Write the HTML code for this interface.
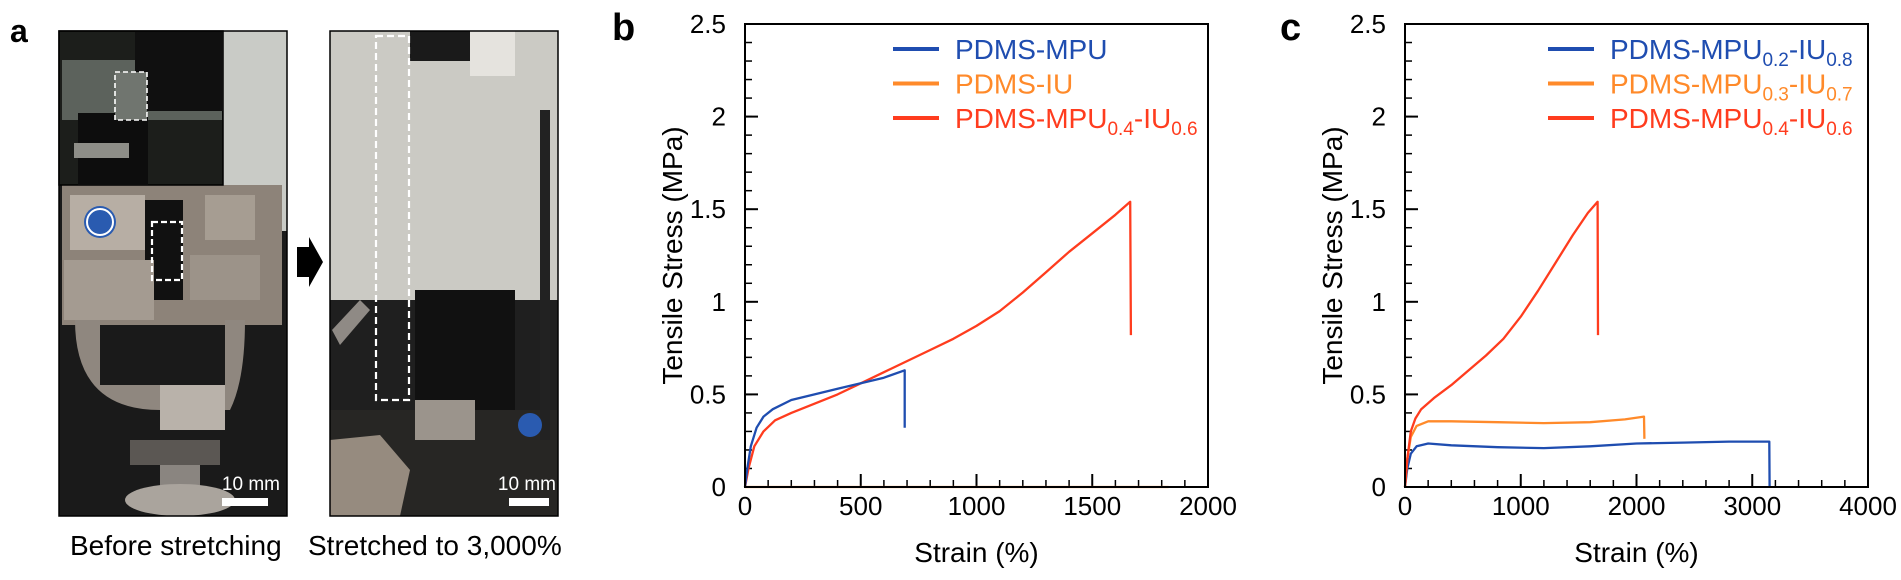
<!DOCTYPE html>
<html><head><meta charset="utf-8">
<style>
html,body{margin:0;padding:0;background:#fff;}
svg{display:block;font-family:"Liberation Sans",Arial,sans-serif;}
</style></head>
<body>
<svg id="fig" width="1901" height="580" viewBox="0 0 1901 580" xmlns="http://www.w3.org/2000/svg">
  <text x="10" y="42" font-size="32" font-weight="bold">a</text>
  <g>
    <rect x="59" y="31" width="228" height="485" fill="#1a1a1a"/>
    <rect x="200" y="31" width="87" height="200" fill="#c9cbc6"/>
    <rect x="62" y="185" width="220" height="140" fill="#8d8379"/>
    <rect x="70" y="195" width="75" height="55" fill="#b7aea4"/>
    <rect x="205" y="195" width="50" height="45" fill="#a69d92"/>
    <circle cx="100" cy="222" r="16" fill="#2a5bb0"/>
    <circle cx="100" cy="222" r="13" fill="none" stroke="#fff" stroke-width="2"/>
    <circle cx="232" cy="271" r="12" fill="#2a5bb0"/>
    <rect x="145" y="200" width="38" height="100" fill="#111"/>
    <rect x="64" y="260" width="90" height="60" fill="#a49b91"/>
    <rect x="190" y="255" width="70" height="45" fill="#9c9389"/>
    <path d="M75 320 Q75 410 160 410 L230 410 Q245 380 245 320 L225 320 L225 385 L100 385 L100 320 Z" fill="#8f877f"/>
    <rect x="160" y="385" width="65" height="45" fill="#b9b2aa"/>
    <rect x="130" y="440" width="90" height="25" fill="#5b5753"/>
    <rect x="160" y="465" width="40" height="30" fill="#8a8580"/>
    <ellipse cx="180" cy="500" rx="55" ry="16" fill="#aaa49d"/>
    <rect x="59" y="31" width="164" height="154" fill="#1c1e1b" stroke="#000" stroke-width="1.5"/>
    <rect x="62" y="60" width="160" height="60" fill="#5c625c"/>
    <rect x="135" y="31" width="88" height="80" fill="#101010"/>
    <rect x="78" y="113" width="70" height="72" fill="#0d0d0d"/>
    <rect x="74" y="143" width="55" height="15" fill="#8e8e88"/>
    <rect x="115" y="72" width="32" height="48" fill="#70756f" stroke="#fff" stroke-width="1.6" stroke-dasharray="5,3"/>
    <rect x="152" y="222" width="30" height="58" fill="none" stroke="#fff" stroke-width="2.2" stroke-dasharray="6,3"/>
    <rect x="59" y="31" width="228" height="485" fill="none" stroke="#000" stroke-width="1.5"/>
    <text x="280" y="490" font-size="19" fill="#fff" text-anchor="end">10 mm</text>
    <rect x="222" y="498" width="46" height="8" fill="#fff"/>
  </g>
  <text x="70" y="555" font-size="28">Before stretching</text>
  <path d="M297 247 L309 247 L309 237 L323 262 L309 287 L309 277 L297 277 Z" fill="#000"/>
  <g>
    <rect x="330" y="31" width="228" height="485" fill="#cbcac4"/>
    <rect x="330" y="300" width="228" height="216" fill="#1f1f1f"/>
    <rect x="415" y="290" width="100" height="120" fill="#111"/>
    <rect x="330" y="410" width="228" height="106" fill="#272624"/>
    <rect x="410" y="31" width="80" height="30" fill="#1a1a1a"/>
    <rect x="470" y="31" width="45" height="45" fill="#e5e3de"/>
    <rect x="540" y="110" width="10" height="330" fill="#222"/>
    <path d="M332 330 L360 300 L370 310 L340 345 Z" fill="#8f8a85"/>
    <rect x="415" y="400" width="60" height="40" fill="#9b948c"/>
    <path d="M330 440 L380 435 L410 470 L400 516 L330 516 Z" fill="#968b7f"/>
    <circle cx="530" cy="425" r="12" fill="#2a5bb0"/>
    <rect x="376" y="36" width="33" height="364" fill="none" stroke="#fff" stroke-width="2.2" stroke-dasharray="7,4"/>
    <rect x="330" y="31" width="228" height="485" fill="none" stroke="#000" stroke-width="1.5"/>
    <text x="556" y="490" font-size="19" fill="#fff" text-anchor="end">10 mm</text>
    <rect x="509" y="498" width="40" height="8" fill="#fff"/>
  </g>
  <text x="308" y="555" font-size="28">Stretched to 3,000%</text>

  <text x="612" y="40" font-size="38" font-weight="bold">b</text>
  <text x="1280" y="40" font-size="38" font-weight="bold">c</text>
  <g id="chartB"></g>
  <g id="chartC"></g>
</svg>
<script>
// Panel b data
const bXTicks = [0, 500, 1000, 1500, 2000];
const bYTicks = [0, 0.5, 1, 1.5, 2, 2.5];
const bYTickLabels = ["0", "0.5", "1", "1.5", "2", "2.5"];
const bMpuStrain = [0, 10, 25, 50, 80, 120, 200, 300, 400, 500, 600, 690, 690];
const bMpuStress = [0, 0.1, 0.22, 0.32, 0.38, 0.42, 0.47, 0.5, 0.53, 0.56, 0.59, 0.63, 0.32];
const bIuStrain = [0, 500, 1000, 1500, 1830];
const bIuStress = [0, 0, 0, 0, 0];
const bMixStrain = [0, 15, 40, 80, 130, 200, 300, 400, 500, 600, 700, 800, 900, 1000, 1100, 1200, 1300, 1400, 1500, 1600, 1664, 1667];
const bMixStress = [0, 0.1, 0.22, 0.3, 0.36, 0.4, 0.45, 0.5, 0.56, 0.62, 0.68, 0.74, 0.8, 0.87, 0.95, 1.05, 1.16, 1.27, 1.37, 1.47, 1.54, 0.82];
// Panel c data
const cXTicks = [0, 1000, 2000, 3000, 4000];
const cYTicks = [0, 0.5, 1, 1.5, 2, 2.5];
const cYTickLabels = ["0", "0.5", "1", "1.5", "2", "2.5"];
const c28Strain = [0, 20, 50, 100, 200, 400, 800, 1200, 1600, 2000, 2400, 2800, 3147, 3150];
const c28Stress = [0, 0.1, 0.18, 0.22, 0.235, 0.225, 0.215, 0.21, 0.22, 0.235, 0.24, 0.245, 0.245, 0];
const c37Strain = [0, 20, 50, 100, 200, 400, 800, 1200, 1600, 1900, 2065, 2068];
const c37Stress = [0, 0.15, 0.27, 0.33, 0.355, 0.355, 0.35, 0.345, 0.35, 0.365, 0.38, 0.26];
const c46Strain = [0, 20, 50, 90, 140, 250, 400, 550, 700, 850, 1000, 1150, 1300, 1450, 1580, 1664, 1667];
const c46Stress = [0, 0.15, 0.3, 0.37, 0.42, 0.48, 0.55, 0.63, 0.71, 0.8, 0.92, 1.06, 1.21, 1.36, 1.48, 1.54, 0.82];

const NS = "http://www.w3.org/2000/svg";
const BLUE = "#1f4db0", ORANGE = "#ff8a2a", RED = "#ff3c1e";
function mk(tag, attrs, parent) { const e = document.createElementNS(NS, tag); for (const k in attrs) e.setAttribute(k, attrs[k]); parent.appendChild(e); return e; }

function drawChart(g, L, R, T, B, xMax, yMax, xTicks, minorX, yTicks, yLabels, series, legend) {
  const sx = v => L + (v / xMax) * (R - L);
  const sy = v => B - (v / yMax) * (B - T);
  for (let v = 0; v <= xMax + 1e-9; v += minorX) {
    const t = mk("line", {x1: sx(v), x2: sx(v), y1: B, y2: B - 7, stroke: "#000", "stroke-width": 1.5}, g);
    
    
  }
  for (let v = 0; v <= yMax + 1e-9; v += 0.1) {
    const t = mk("line", {x1: L, x2: L + 7, y1: sy(v), y2: sy(v), stroke: "#000", "stroke-width": 1.5}, g);
    
    
  }
  xTicks.forEach(v => {
    const t = mk("line", {x1: sx(v), x2: sx(v), y1: B, y2: B - 13, stroke: "#000", "stroke-width": 2}, g);
    
    
    const l = mk("text", {x: sx(v), y: B + 28, "font-size": 26, "text-anchor": "middle"}, g);
    l.textContent = String(v);
    
    
  });
  yTicks.forEach((v, i) => {
    const t = mk("line", {x1: L, x2: L + 13, y1: sy(v), y2: sy(v), stroke: "#000", "stroke-width": 2}, g);
    
    
    const l = mk("text", {x: L - 19, y: sy(v) + 9, "font-size": 26, "text-anchor": "end"}, g);
    l.textContent = yLabels[i];
    
    
  });
  series.forEach(s => {
    const d = s.x.map((v, i) => (i ? "L" : "M") + sx(v).toFixed(1) + " " + sy(s.y[i]).toFixed(1)).join(" ");
    const p = mk("path", {d: d, fill: "none", stroke: s.color, "stroke-width": 2.3, "stroke-linejoin": "round"}, g);
    
    
  });
  const frame = mk("rect", {x: L, y: T, width: R - L, height: B - T, fill: "none", stroke: "#000", "stroke-width": 2}, g);
  
  
  const xt = mk("text", {x: (L + R) / 2, y: B + 75, "font-size": 28, "text-anchor": "middle"}, g);
  xt.textContent = "Strain (%)";
  
  
  const cy = (T + B) / 2;
  const yt = mk("text", {x: L - 63, y: cy, "font-size": 28, "text-anchor": "middle", transform: "rotate(-90 " + (L - 63) + " " + cy + ")"}, g);
  yt.textContent = "Tensile Stress (MPa)";
  
  
  legend.forEach((e, i) => {
    const y = 49 + i * 34.5;
    const ln = mk("line", {x1: e.lx, x2: e.lx + 46, y1: y, y2: y, stroke: e.color, "stroke-width": 4}, g);
    
    
    const t = mk("text", {x: e.lx + 62, y: y + 10, "font-size": 28, fill: e.color}, g);
    
    
    e.parts.forEach(pt => {
      const ts = mk("tspan", pt[1] ? {"font-size": 19, dy: 7} : {"font-size": 28, dy: pt[2] ? -7 : 0}, t);
      ts.textContent = pt[0];
    });
  });
}

drawChart(document.getElementById("chartB"), 745, 1208, 24, 487, 2000, 2.5, bXTicks, 100, bYTicks, bYTickLabels,
  [{x: bIuStrain, y: bIuStress, color: ORANGE, name: "series-pdms-iu"},
   {x: bMixStrain, y: bMixStress, color: RED, name: "series-pdms-mpu04-iu06"},
   {x: bMpuStrain, y: bMpuStress, color: BLUE, name: "series-pdms-mpu"}],
  [{lx: 893, color: BLUE, parts: [["PDMS-MPU", 0]]},
   {lx: 893, color: ORANGE, parts: [["PDMS-IU", 0]]},
   {lx: 893, color: RED, parts: [["PDMS-MPU", 0], ["0.4", 1], ["-IU", 0, 1], ["0.6", 1]]}]);

drawChart(document.getElementById("chartC"), 1405, 1868, 24, 487, 4000, 2.5, cXTicks, 200, cYTicks, cYTickLabels,
  [{x: c28Strain, y: c28Stress, color: BLUE, name: "series-mpu02-iu08"},
   {x: c37Strain, y: c37Stress, color: ORANGE, name: "series-mpu03-iu07"},
   {x: c46Strain, y: c46Stress, color: RED, name: "series-mpu04-iu06"}],
  [{lx: 1548, color: BLUE, parts: [["PDMS-MPU", 0], ["0.2", 1], ["-IU", 0, 1], ["0.8", 1]]},
   {lx: 1548, color: ORANGE, parts: [["PDMS-MPU", 0], ["0.3", 1], ["-IU", 0, 1], ["0.7", 1]]},
   {lx: 1548, color: RED, parts: [["PDMS-MPU", 0], ["0.4", 1], ["-IU", 0, 1], ["0.6", 1]]}]);
</script>
</body></html>
